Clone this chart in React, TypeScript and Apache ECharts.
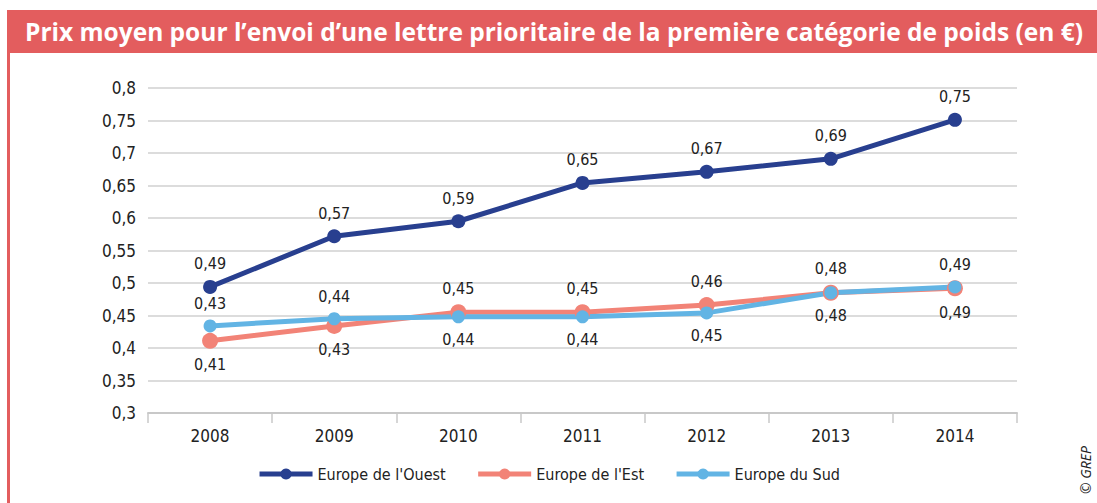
import React, { useEffect, useRef } from "react";
import * as echarts from "echarts";

const years = ["2008", "2009", "2010", "2011", "2012", "2013", "2014"];
const ouest = [0.494, 0.572, 0.595, 0.654, 0.671, 0.691, 0.751];
const est = [0.411, 0.434, 0.455, 0.455, 0.466, 0.485, 0.492];
const sud = [0.434, 0.445, 0.448, 0.448, 0.454, 0.485, 0.494];
const estLabelPos = ["bottom", "bottom", "top", "top", "top", "top", "bottom"];
const sudLabelPos = ["top", "top", "bottom", "bottom", "bottom", "bottom", "top"];
const yTicks = ["0,3", "0,35", "0,4", "0,45", "0,5", "0,55", "0,6", "0,65", "0,7", "0,75", "0,8"];

const FONT = "'Liberation Sans Narrow', 'DejaVu Sans Condensed', sans-serif";
const fmt = (v: number) => (Math.floor(v * 100 + 1e-6) / 100).toFixed(2).replace(".", ",");

export default function App() {
  const ref = useRef<HTMLDivElement>(null);
  useEffect(() => {
    const chart = echarts.init(ref.current!, null, { renderer: "svg" });
    const labelStyle = { color: "#222", fontSize: 16, fontFamily: FONT, distance: 8 };
    const mk = (name: string, data: number[], color: string, size: number, pos?: string[]) => ({
      name,
      type: "line",
      data: data.map((v, i) => ({
        value: v,
        label: { position: pos ? pos[i] : "top" },
      })),
      symbol: "circle",
      symbolSize: size,
      lineStyle: { color, width: 5 },
      itemStyle: { color },
      label: { show: true, formatter: (p: any) => fmt(p.value), ...labelStyle },
    });
    chart.setOption({
      animation: false,
      backgroundColor: "#fff",
      graphic: [
        { type: "rect", shape: { x: 7, y: 10, width: 1090, height: 43 }, style: { fill: "#e35d5e" } },
        { type: "rect", shape: { x: 7, y: 53, width: 3, height: 450 }, style: { fill: "#e35d5e" } },
        {
          type: "text",
          x: 25,
          y: 31,
          style: {
            text: "Prix moyen pour l\u2019envoi d\u2019une lettre prioritaire de la premi\u00e8re cat\u00e9gorie de poids (en \u20ac)",
            fill: "#fff",
            font: "bold 24.5px 'Open Sans', sans-serif",
            verticalAlign: "middle",
          },
        },
        {
          type: "text",
          x: 1085,
          y: 494,
          rotation: Math.PI / 2,
          style: {
            text: "\u00a9 GREP",
            fill: "#222",
            font: "italic 14px 'Open Sans', sans-serif",
            verticalAlign: "middle",
          },
        },
      ],
      grid: { left: 148, right: 80, top: 88, bottom: 90 },
      legend: {
        bottom: 16,
        left: "center",
        itemWidth: 53,
        itemHeight: 14,
        itemGap: 30,
        lineStyle: { width: 5 },
        textStyle: { color: "#222", fontSize: 16, fontFamily: FONT },
        data: ["Europe de l'Ouest", "Europe de l'Est", "Europe du Sud"],
      },
      xAxis: {
        type: "category",
        data: years,
        boundaryGap: true,
        axisLine: { lineStyle: { color: "#c8c8c8", width: 2 } },
        axisTick: { show: true, length: 10, lineStyle: { color: "#c8c8c8", width: 1.5 } },
        axisLabel: { color: "#222", fontSize: 17, fontFamily: FONT, margin: 14 },
      },
      yAxis: {
        type: "value",
        min: 0.3,
        max: 0.8,
        interval: 0.05,
        axisLine: { show: false },
        axisTick: { show: false },
        axisLabel: {
          color: "#222",
          fontSize: 17,
          fontFamily: FONT,
          margin: 12,
          formatter: (v: number) => yTicks[Math.round((v - 0.3) / 0.05)],
        },
        splitLine: { lineStyle: { color: "#d0d0d0", width: 1.5 } },
      },
      series: [
        mk("Europe de l'Ouest", ouest, "#283f8f", 14),
        mk("Europe de l'Est", est, "#f28377", 16, estLabelPos),
        mk("Europe du Sud", sud, "#62b4e4", 13, sudLabelPos),
      ],
    });
    return () => chart.dispose();
  }, []);
  return <div ref={ref} style={{ position: "absolute", left: 0, top: 0, width: 1097, height: 503 }} />;
}
